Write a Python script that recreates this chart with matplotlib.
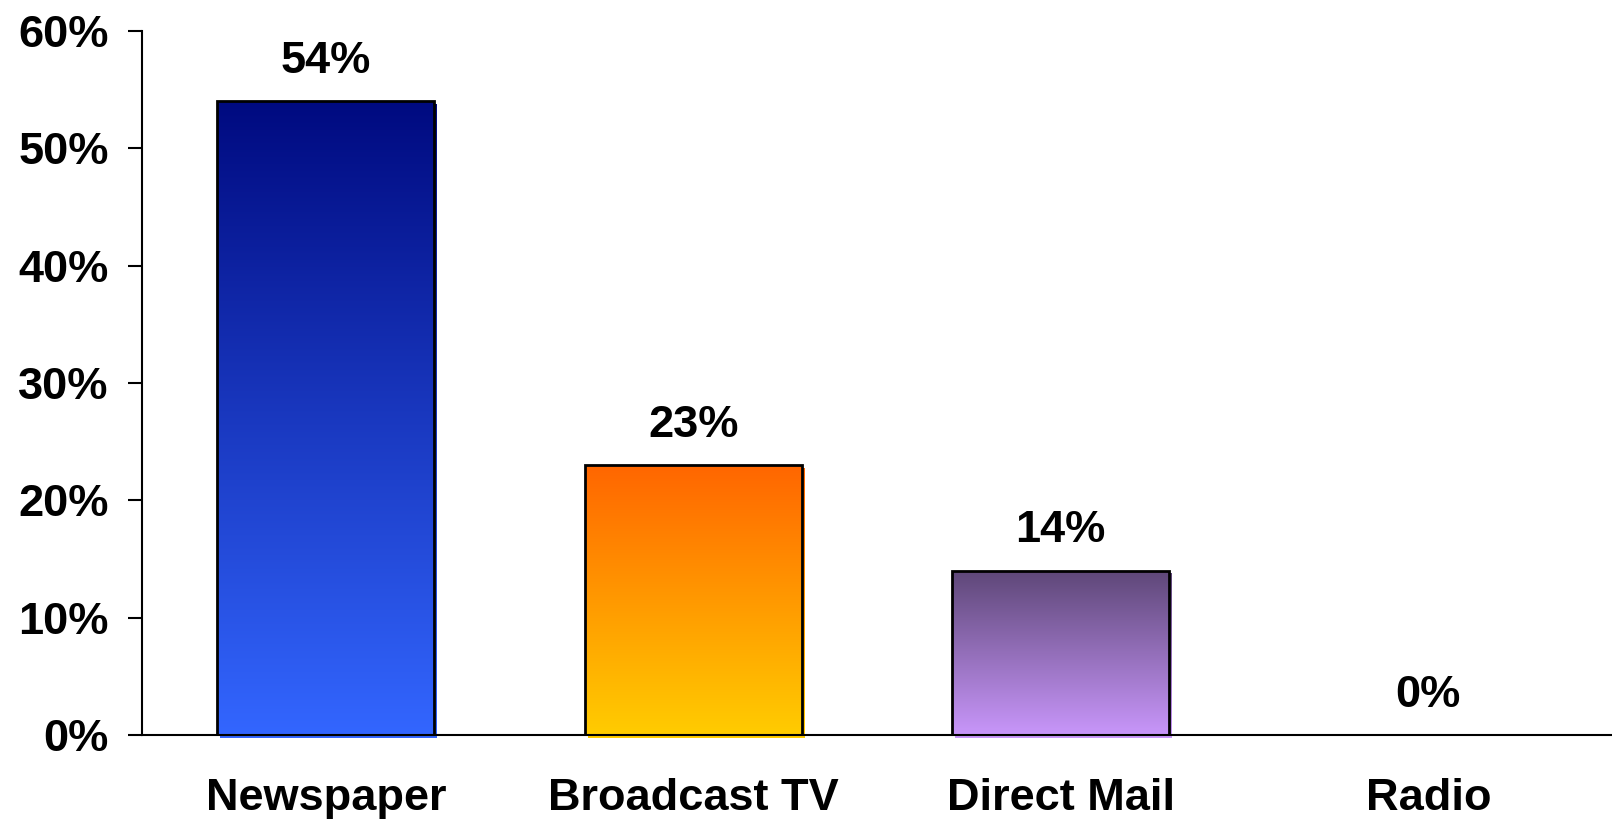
import numpy as np
import matplotlib.pyplot as plt
from matplotlib.colors import LinearSegmentedColormap
from matplotlib.ticker import FuncFormatter

plt.rcParams['font.family'] = ['Liberation Sans', 'DejaVu Sans']
plt.rcParams['font.weight'] = 'bold'

# ── DATA ──
categories = ['Newspaper', 'Broadcast TV', 'Direct Mail', 'Radio']
shares = [54, 23, 14, 0]
y_ticks = [0, 10, 20, 30, 40, 50, 60]

# gradient colours per bar: (top, bottom)
grad_colors = [
    ('#000A80', '#3366FF'),
    ('#FF6600', '#FFCC00'),
    ('#5E4778', '#C896FA'),
    ('#FFFFFF', '#FFFFFF'),
]

fig = plt.figure(figsize=(16.12, 8.21), dpi=100)
ax = fig.add_axes([0.0881, 0.1048, 0.9119, 0.8574])

x = np.arange(len(categories))
width = 0.59
bars = ax.bar(x, shares, width=width, facecolor='none',
              edgecolor='black', linewidth=2.0, zorder=3)

grad = np.linspace(0, 1, 256).reshape(-1, 1)
dx, dy = 0.008, 0.25
for bar, (top, bottom), val in zip(bars, grad_colors, shares):
    if val <= 0:
        bar.set_visible(False)
        continue
    cmap = LinearSegmentedColormap.from_list('g', [top, bottom])
    x0 = bar.get_x()
    x1 = x0 + bar.get_width()
    # soft offset shadow in bar colour
    ax.imshow(grad, cmap=cmap, aspect='auto', origin='upper',
              extent=[x0 + dx, x1 + dx, -dy, val - dy],
              zorder=1, clip_on=False)
    im = ax.imshow(grad, cmap=cmap, aspect='auto', origin='upper',
                   extent=[x0, x1, 0, val], zorder=2)
    im.set_clip_path(bar)

for xi, val in zip(x, shares):
    ax.annotate(f'{val}%', (xi, val), xytext=(0, 14),
                textcoords='offset points', ha='center', va='bottom',
                fontsize=32.5, fontweight='bold')

ax.set_xlim(-0.5, len(categories) - 0.5)
ax.set_ylim(0, 60)
ax.set_yticks(y_ticks)
ax.yaxis.set_major_formatter(FuncFormatter(lambda v, p: f'{v:.0f}%'))
ax.set_xticks(x)
ax.set_xticklabels(categories)

ax.tick_params(axis='y', direction='out', length=10, width=1.5,
               pad=14, labelsize=32.5)
ax.tick_params(axis='x', length=0, pad=31, labelsize=32.5)

for side in ['top', 'right']:
    ax.spines[side].set_visible(False)
for side in ['left', 'bottom']:
    ax.spines[side].set_linewidth(1.5)
ax.spines['bottom'].set_zorder(4)

fig.savefig('out.png', dpi=100)
